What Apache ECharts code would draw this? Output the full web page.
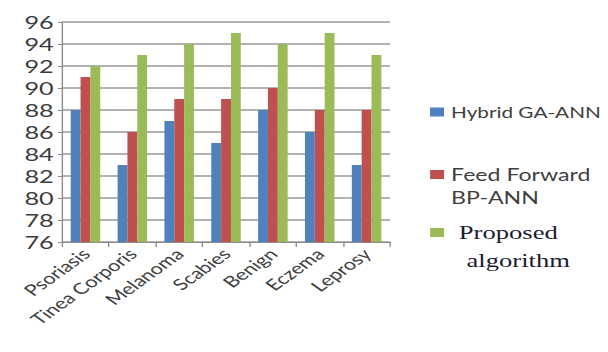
<!DOCTYPE html>
<html>
<head>
<meta charset="utf-8">
<script src="https://cdn.jsdelivr.net/npm/echarts@6/dist/echarts.min.js"></script>
<style>
  html, body { margin: 0; padding: 0; background: #fff; overflow: hidden; }
  /* the chart is laid out narrow and widened horizontally to the page width */
  #chart { width: 434px; height: 352px; transform: scaleX(1.4009); transform-origin: 0 0; }
</style>
</head>
<body>
<div id="chart"></div>
<script>
const categories = ['Psoriasis', 'Tinea Corporis', 'Melanoma', 'Scabies', 'Benign', 'Eczema', 'Leprosy'];
const hybridGaAnn = [88, 83, 87, 85, 88, 86, 83];
const feedForwardBpAnn = [91, 86, 89, 89, 90, 88, 88];
const proposedAlgorithm = [92, 93, 94, 95, 94, 95, 93];
const yTicks = { min: 76, max: 96, step: 2 };
const seriesNames = ['Hybrid GA-ANN', 'Feed Forward', 'Proposed'];
const colors = ['#4F81BD', '#C0504D', '#9BBB59'];

const sans = 'Lato';
const serif = 'Liberation Serif';

const chart = echarts.init(document.getElementById('chart'), null, { renderer: 'svg' });

function legendFor(name, top, font, size, color, padLeft) {
  return {
    orient: 'vertical',
    left: 307,
    top: top,
    padding: 0,
    itemWidth: 10,
    itemHeight: 9,
    icon: 'rect',
    selectedMode: false,
    data: [name],
    textStyle: { fontFamily: font, fontSize: size, color: color, padding: [0, 0, 0, padLeft] }
  };
}

chart.setOption({
  animation: false,
  backgroundColor: '#ffffff',
  color: colors,
  grid: { left: 44.3, right: 155.6, top: 22, bottom: 110, containLabel: false },
  legend: [
    legendFor(seriesNames[0], 104.5, sans, 14.8, '#404040', 0),
    legendFor(seriesNames[1], 166, sans, 16.5, '#404040', 0),
    legendFor(seriesNames[2], 223, serif, 19, '#1c1c30', 5.5)
  ],
  graphic: [
    { type: 'text', left: 322, top: 188.5, style: { text: 'BP-ANN', fontFamily: sans, fontSize: 16.5, fill: '#404040' } },
    { type: 'text', left: 333, top: 251, style: { text: 'algorithm', fontFamily: serif, fontSize: 19, fill: '#1c1c30' } }
  ],
  xAxis: {
    type: 'category',
    data: categories,
    boundaryGap: true,
    axisLine: { show: true, lineStyle: { color: '#8c8c8c', width: 1 } },
    axisTick: { show: true, length: 5, alignWithLabel: false, lineStyle: { color: '#8c8c8c' } },
    axisLabel: { rotate: 45, margin: 9, fontFamily: sans, fontSize: 15.5, color: '#404040', interval: 0 }
  },
  yAxis: {
    type: 'value',
    min: yTicks.min,
    max: yTicks.max,
    interval: yTicks.step,
    axisLine: { show: true, lineStyle: { color: '#8c8c8c', width: 1 } },
    axisTick: { show: true, length: 3, lineStyle: { color: '#8c8c8c' } },
    axisLabel: { margin: 6, fontFamily: sans, fontSize: 18, color: '#3c3c3c' },
    splitLine: { show: true, lineStyle: { color: '#999999', width: 1.5 } }
  },
  series: [
    { name: seriesNames[0], type: 'bar', data: hybridGaAnn, barGap: '0%', barCategoryGap: '37%' },
    { name: seriesNames[1], type: 'bar', data: feedForwardBpAnn, barGap: '0%', barCategoryGap: '37%' },
    { name: seriesNames[2], type: 'bar', data: proposedAlgorithm, barGap: '0%', barCategoryGap: '37%' }
  ]
});
</script>
</body>
</html>
